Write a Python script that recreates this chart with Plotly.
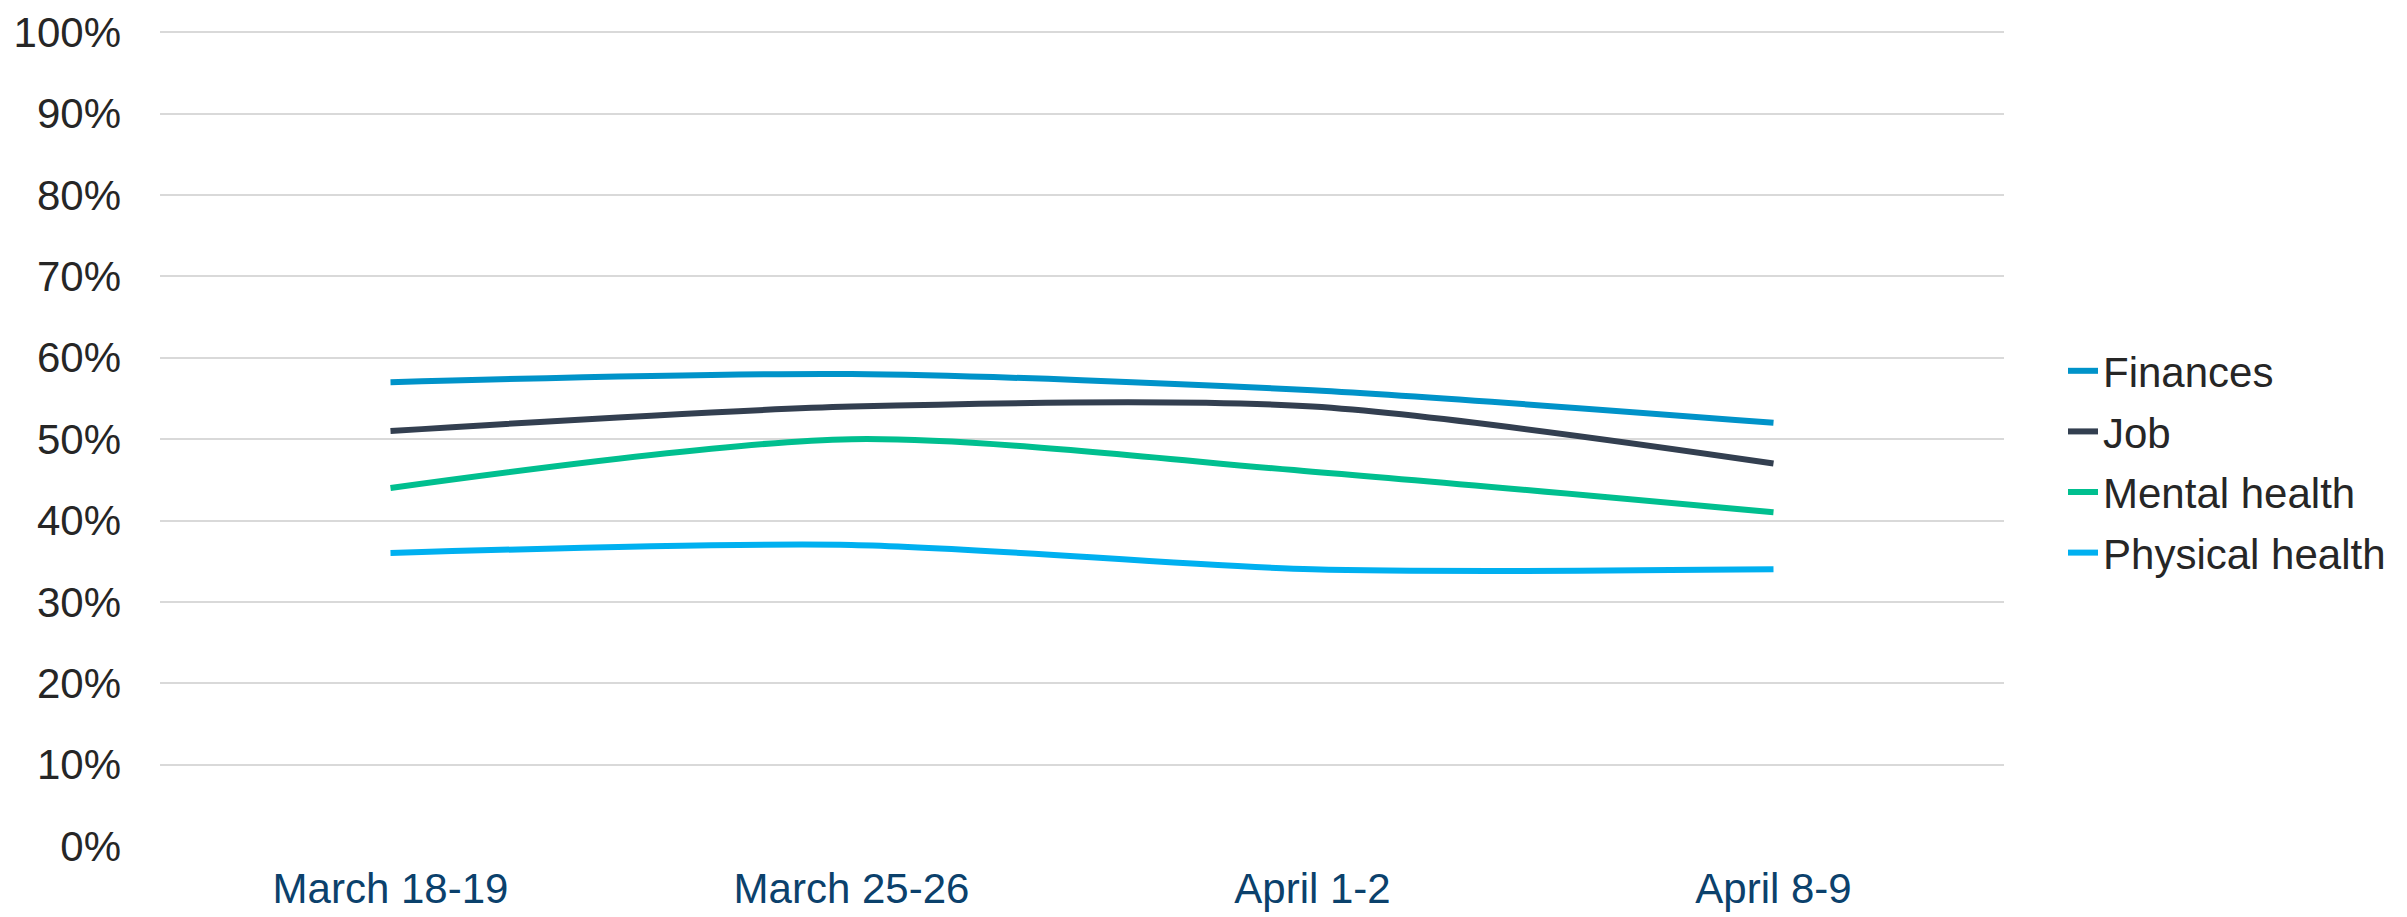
import plotly.graph_objects as go

categories = ["March 18-19", "March 25-26", "April 1-2", "April 8-9"]
finances = [57, 58, 56, 52]
job = [51, 54, 54, 47]
mental_health = [44, 50, 46, 41]
physical_health = [36, 37, 34, 34]
y_ticks = list(range(0, 101, 10))
y_tick_labels = [f"{v}%" for v in y_ticks]

series = [
    ("Finances", finances, "#0093C9"),
    ("Job", job, "#333F50"),
    ("Mental health", mental_health, "#00BF8F"),
    ("Physical health", physical_health, "#00B0F0"),
]

fig = go.Figure()
for i, (name, vals, color) in enumerate(series):
    fig.add_trace(go.Scatter(
        x=categories, y=vals, name=name, mode="lines",
        line=dict(color=color, width=6, shape="spline", smoothing=0.8),
        legendgroup=f"g{i}",
    ))

fig.update_layout(
    width=2407, height=917,
    margin=dict(l=160, r=403, t=29, b=71, autoexpand=False),
    plot_bgcolor="white", paper_bgcolor="white",
    font=dict(family="Liberation Sans, Arial, sans-serif", size=42, color="#262626"),
    showlegend=True,
    legend=dict(
        x=1.032, xanchor="left", y=0.47, yanchor="middle",
        font=dict(size=42, color="#262626"),
        tracegroupgap=3, itemwidth=30,
        bgcolor="rgba(0,0,0,0)",
    ),
    xaxis=dict(
        type="category", range=[-0.5, 3.5], automargin=False,
        showgrid=False, showline=False, zeroline=False,
        tickfont=dict(size=42, color="#0B416C"),
        ticks="", ticklabelstandoff=14,
    ),
    yaxis=dict(
        range=[0, 100.4], tickvals=y_ticks, ticktext=y_tick_labels,
        automargin=False,
        showgrid=True, gridcolor="#D9D9D9", gridwidth=2,
        zeroline=False, showline=False,
        tickfont=dict(size=42, color="#262626"),
        ticks="", ticklabelstandoff=38,
    ),
)

fig.write_html(
    "out.html",
    config={"displayModeBar": False},
    post_script="document.body.style.margin='0';document.body.style.overflow='hidden';",
)
